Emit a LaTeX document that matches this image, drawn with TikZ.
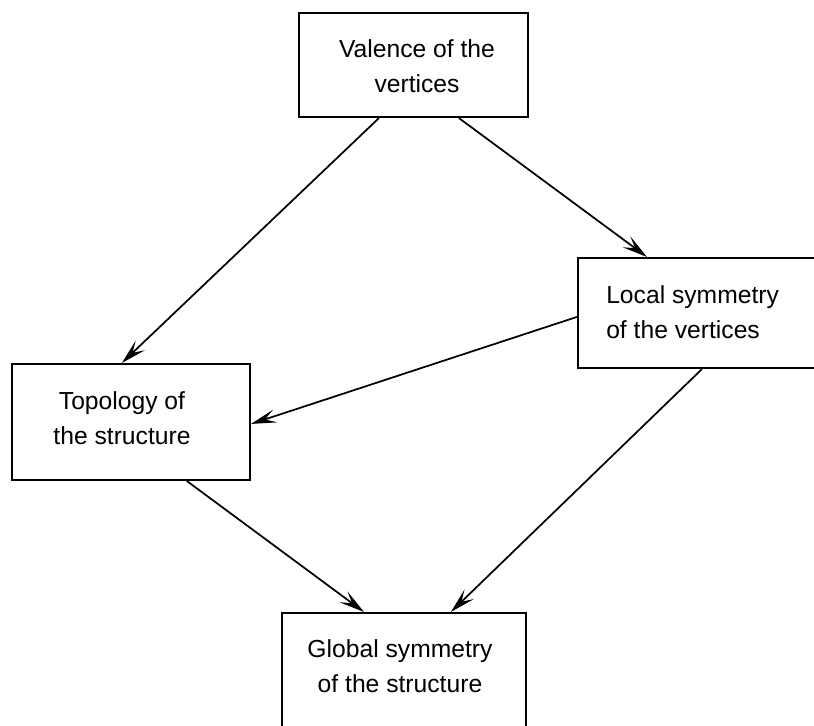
\documentclass[tikz,border=0pt]{standalone}
\usepackage{fontspec}
\setmainfont{Liberation Sans}
\usetikzlibrary{arrows.meta,fit,calc}
\tikzset{
  box/.style={draw, line width=1.6pt, inner sep=0pt, rectangle},
  lbl/.style={font=\fontsize{18.5}{26.5}\selectfont, inner sep=0pt, align=center},
  arr/.style={line width=1.3pt, -{Stealth[length=19pt,width=10pt,inset=8pt]}}
}
\begin{document}
\begin{tikzpicture}[x=0.75pt,y=-0.75pt]
\useasboundingbox[fill=white] (0,0) rectangle (814,725);
% boxes
\node[box, fit={(299,13) (528,117)}] (top) {};
\node[box, fit={(578,258) (870,368)}] (right) {};
\node[box, fit={(12,364) (250,480)}] (left) {};
\node[box, fit={(282,613) (526,780)}] (bottom) {};
% labels
\node[lbl] (ttop) at (417,66) {Valence of the\\vertices};
\node[lbl, anchor=west, align=left] (tright) at (606,312) {Local symmetry\\of the vertices};
\node[lbl] (tleft) at (122,418) {Topology of\\the structure};
\node[lbl] (tbottom) at (400,666) {Global symmetry\\of the structure};
% connectors
\draw[arr] ($(top.south west)+(81,0)$) -- ($(left.north west)+(111,0)$);
\draw[arr] ($(top.south west)+(161,0)$) -- ($(right.north west)+(70,0)$);
\draw[arr] ($(right.north west)+(0,60)$) -- ($(left.north east)+(0,61)$);
\draw[arr] ($(left.south west)+(176,0)$) -- ($(bottom.north west)+(83,0)$);
\draw[arr] ($(right.south west)+(125,0)$) -- ($(bottom.north west)+(170,0)$);
\end{tikzpicture}
\end{document}
